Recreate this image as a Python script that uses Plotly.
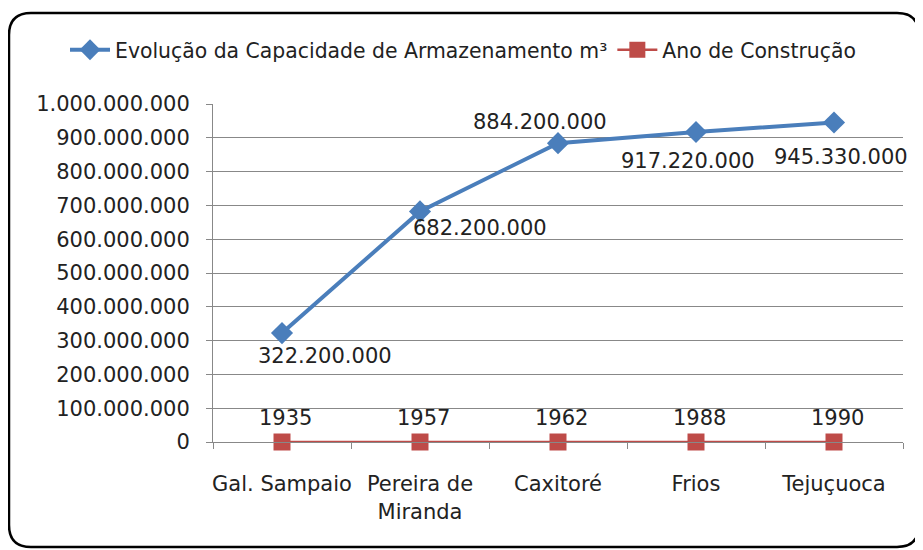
import plotly.graph_objects as go

categories = ["Gal. Sampaio", "Pereira de<br>Miranda", "Caxitoré", "Frios", "Tejuçuoca"]
capacidade = [322200000, 682200000, 884200000, 917220000, 945330000]
ano = [1935, 1957, 1962, 1988, 1990]
cap_labels = ["322.200.000", "682.200.000", "884.200.000", "917.220.000", "945.330.000"]
ano_labels = ["1935", "1957", "1962", "1988", "1990"]
y_ticks = [0, 100000000, 200000000, 300000000, 400000000, 500000000,
           600000000, 700000000, 800000000, 900000000, 1000000000]

BLUE = "#4A7EBB"
RED = "#BE4B48"
FONT = "DejaVu Sans"
TXT = "#222"

# page has an 8px body margin; figure drawn at (8, 8)
W, H = 915, 542
L, R, T, B = 205, 20, 96, 108
pw, ph = W - L - R, H - T - B

fig = go.Figure()
fig.add_trace(go.Scatter(
    x=categories, y=capacidade, mode="lines+markers",
    name="Evolução da Capacidade de Armazenamento m³",
    line=dict(color=BLUE, width=4),
    marker=dict(symbol="diamond", size=17, color=BLUE),
    cliponaxis=False,
))
fig.add_trace(go.Scatter(
    x=categories, y=ano, mode="lines+markers",
    name="Ano de Construção",
    line=dict(color=RED, width=2.5),
    marker=dict(symbol="square", size=17, color=RED),
    cliponaxis=False,
))

# data label offsets (pixels)
cap_shift = [(43, -23), (60, -17), (-18, 21), (-8, -29), (7, -35)]
for c, v, t, (dx, dy) in zip(categories, capacidade, cap_labels, cap_shift):
    fig.add_annotation(x=c, y=v, text=t, showarrow=False, xshift=dx, yshift=dy,
                       font=dict(family=FONT, size=21, color=TXT))
for c, v, t in zip(categories, ano, ano_labels):
    fig.add_annotation(x=c, y=v, text=t, showarrow=False, xshift=3, yshift=24,
                       font=dict(family=FONT, size=21, color=TXT))


def px(x):
    return (x - L) / pw


def py(y):
    return (H - B - y) / ph


x0, x1, y0, y1, r = 1, 911, 5, 539, 22
path = (f"M {px(x0 + r)},{py(y0)} L {px(x1 - r)},{py(y0)} "
        f"Q {px(x1)},{py(y0)} {px(x1)},{py(y0 + r)} "
        f"L {px(x1)},{py(y1 - r)} Q {px(x1)},{py(y1)} {px(x1 - r)},{py(y1)} "
        f"L {px(x0 + r)},{py(y1)} Q {px(x0)},{py(y1)} {px(x0)},{py(y1 - r)} "
        f"L {px(x0)},{py(y0 + r)} Q {px(x0)},{py(y0)} {px(x0 + r)},{py(y0)} Z")
fig.add_shape(type="path", xref="paper", yref="paper", path=path,
              line=dict(color="black", width=2.5), layer="below")

fig.update_layout(
    width=W, height=H,
    margin=dict(l=L, r=R, t=T, b=B, autoexpand=False),
    paper_bgcolor="white", plot_bgcolor="white",
    separators=",.",
    font=dict(family=FONT, size=21, color=TXT),
    showlegend=True,
    legend=dict(orientation="h", x=px(57), xanchor="left",
                y=py(42), yanchor="middle",
                font=dict(family=FONT, size=20.4, color=TXT),
                itemwidth=40, tracegroupgap=0, bgcolor="rgba(0,0,0,0)"),
)
fig.update_xaxes(
    type="category", tickson="boundaries", ticks="outside", ticklen=6,
    tickcolor="#888", showline=True, linecolor="#888", linewidth=1,
    showgrid=False, tickfont=dict(family=FONT, size=21, color=TXT),
    range=[-0.5, 4.5], ticklabelstandoff=23, tickangle=0, automargin=False,
)
fig.update_yaxes(
    range=[0, 1000000000], tickvals=y_ticks, tickformat=",d",
    ticks="outside", ticklen=6, tickcolor="#888",
    showline=True, linecolor="#888", linewidth=1,
    showgrid=True, gridcolor="#888", gridwidth=1, zeroline=False,
    tickfont=dict(family=FONT, size=21, color=TXT), ticklabelstandoff=12,
    automargin=False,
)

fig.write_html("out.html")
